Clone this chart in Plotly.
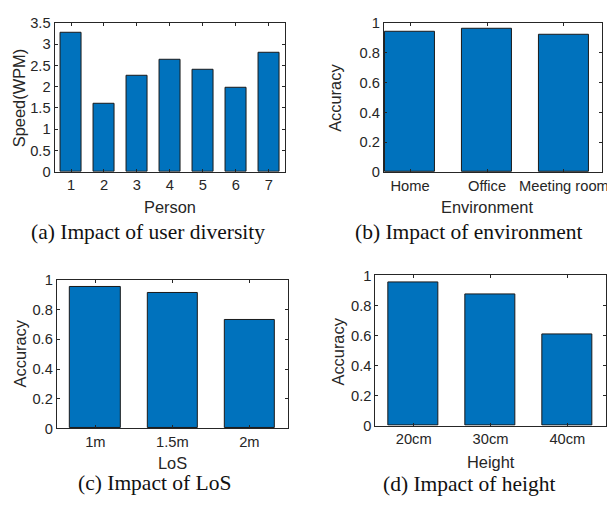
import plotly.graph_objects as go

# ---- data ----
persons = [1, 2, 3, 4, 5, 6, 7]
speed_wpm = [3.26, 1.61, 2.26, 2.63, 2.40, 1.98, 2.79]

environments = ["Home", "Office", "Meeting room"]
env_accuracy = [0.94, 0.957, 0.918]

los_labels = ["1m", "1.5m", "2m"]
los_accuracy = [0.95, 0.913, 0.733]

height_labels = ["20cm", "30cm", "40cm"]
height_accuracy = [0.953, 0.876, 0.607]

# the page body has a default 8px margin; work in page pixels and shift
OFF = 8
PW, PH = 615, 508
W, H = PW - OFF, PH - OFF
BAR = "#0072BD"
EDGE = "#1a1a1a"
AX = "#262626"
TICKFONT = dict(family="Liberation Sans, Arial, sans-serif", size=14.7, color=AX)
LABFONT = dict(family="Liberation Sans, Arial, sans-serif", size=16.4, color=AX)
CAPFONT = dict(family="Liberation Serif, Times New Roman, serif", size=21.5, color="#111111")

def px(x):
    return (x - OFF) / W

def py(y):
    return 1 - (y - OFF) / H

fig = go.Figure()

panels = [
    dict(x=persons, y=speed_wpm, tt=[str(p) for p in persons], xr=[0.5, 7.5], yr=[0, 3.5], dt=0.5,
         dom=(55, 288, 15, 169)),
    dict(x=[1, 2, 3], y=env_accuracy, tt=environments, xr=[0.66, 3.5], yr=[0, 1], dt=0.2,
         dom=(387.7, 608.3, 15, 169.3)),
    dict(x=[1, 2, 3], y=los_accuracy, tt=los_labels, xr=[0.5, 3.5], yr=[0, 1], dt=0.2,
         dom=(57.3, 290.7, 280.7, 434)),
    dict(x=[1, 2, 3], y=height_accuracy, tt=height_labels, xr=[0.5, 3.5], yr=[0, 1], dt=0.2,
         dom=(379, 611.7, 276, 431.3)),
]

layout = {}
for i, p in enumerate(panels):
    n = "" if i == 0 else str(i + 1)
    fig.add_trace(go.Bar(x=p["x"], y=p["y"], width=0.65,
                         marker=dict(color=BAR, line=dict(color=EDGE, width=1)),
                         xaxis="x" + n, yaxis="y" + n, showlegend=False))
    l, r, t, b = p["dom"]
    yt = [round(k * p["dt"], 2) for k in range(int(round(p["yr"][1] / p["dt"])) + 1)]
    layout["xaxis" + n] = dict(domain=[px(l), min(px(r), 1)], range=p["xr"], anchor="y" + n,
                               tickmode="array", tickvals=p["x"], ticktext=p["tt"],
                               ticks="inside", ticklen=3, tickcolor=AX, tickwidth=1,
                               showline=True, linecolor=AX, linewidth=1, mirror="ticks",
                               showgrid=False, zeroline=False, tickfont=TICKFONT)
    layout["yaxis" + n] = dict(domain=[py(b), py(t)], range=p["yr"], anchor="x" + n,
                               tickmode="array", tickvals=yt, ticktext=[f"{v:g}" for v in yt],
                               ticks="inside", ticklen=3, tickcolor=AX, tickwidth=1,
                               showline=True, linecolor=AX, linewidth=1, mirror="ticks",
                               showgrid=False, zeroline=False, tickfont=TICKFONT)

annotations = []
def ann(text, x, y, font, angle=0):
    annotations.append(dict(text=text, x=px(x), y=py(y), xref="paper", yref="paper",
                            showarrow=False, font=font, textangle=angle,
                            xanchor="center", yanchor="middle"))

# axis titles
ann("Person", 171.3, 205.7, LABFONT)
ann("Speed(WPM)", 18.5, 92.5, LABFONT, -90)
ann("Environment", 491.7, 205.7, LABFONT)
ann("Accuracy", 338.3, 92.5, LABFONT, -90)
ann("LoS", 173.8, 470, LABFONT)
ann("Accuracy", 20, 356.7, LABFONT, -90)
ann("Height", 495.8, 468.3, LABFONT)
ann("Accuracy", 341.7, 354.2, LABFONT, -90)

# captions
ann("(a) Impact of user diversity", 149.5, 231, CAPFONT)
ann("(b) Impact of environment", 473, 231, CAPFONT)
ann("(c) Impact of LoS", 155.8, 490, CAPFONT)
ann("(d) Impact of height", 474, 491.7, CAPFONT)

fig.update_layout(width=W, height=H, margin=dict(l=0, r=0, t=0, b=0),
                  paper_bgcolor="white", plot_bgcolor="white",
                  annotations=annotations, bargap=0, **layout)

fig.write_html("out.html")
